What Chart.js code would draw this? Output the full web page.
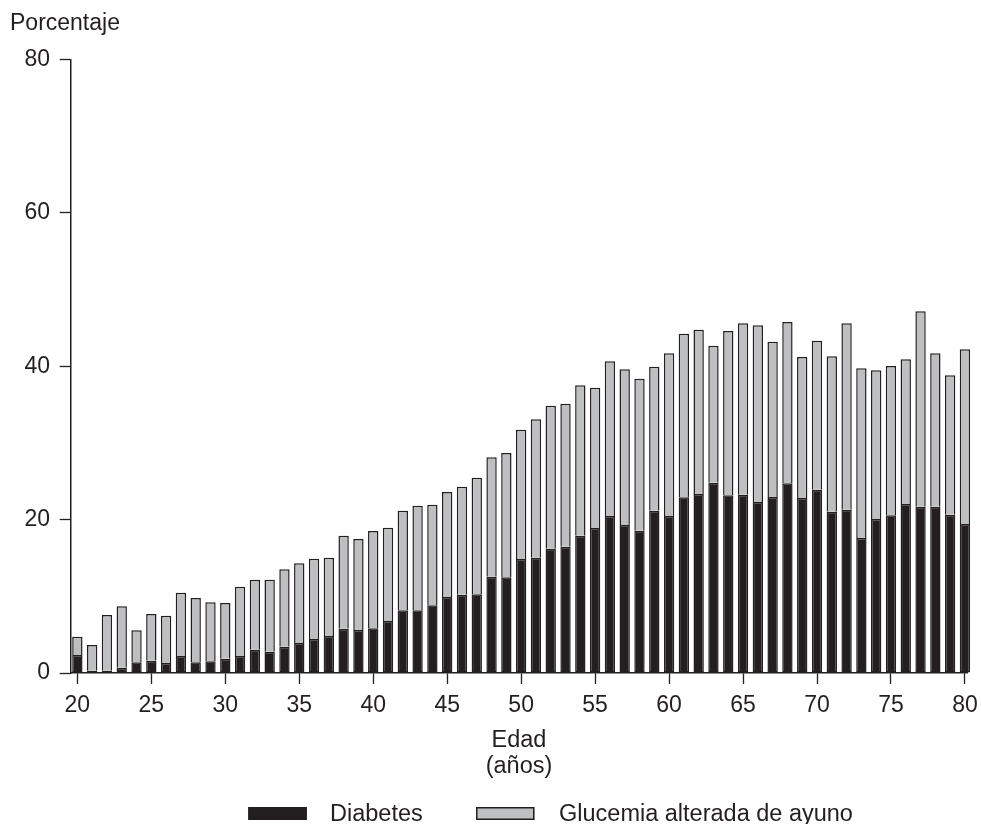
<!DOCTYPE html>
<html>
<head>
<meta charset="utf-8">
<script src="https://cdn.jsdelivr.net/npm/chart.js@4.4.1/dist/chart.umd.min.js"></script>
<style>
html,body{margin:0;padding:0;background:#ffffff;}
#wrap{width:981px;height:824px;position:relative;}
canvas{display:block;}
</style>
</head>
<body>
<div id="wrap"><canvas id="c" width="981" height="824"></canvas></div>
<script>
// ---- data ----
const ages = [20,21,22,23,24,25,26,27,28,29,30,31,32,33,34,35,36,37,38,39,40,
              41,42,43,44,45,46,47,48,49,50,51,52,53,54,55,56,57,58,59,60,
              61,62,63,64,65,66,67,68,69,70,71,72,73,74,75,76,77,78,79,80];
const diabetes = [2.35,0.3,0.3,0.69,1.40,1.60,1.30,2.22,1.40,1.53,1.86,
                  2.22,3.04,2.78,3.43,3.91,4.43,4.82,5.78,5.61,5.83,
                  6.78,8.18,8.18,8.83,9.91,10.21,10.26,12.56,12.48,14.87,
                  15.03,16.21,16.47,17.90,18.91,20.47,19.30,18.56,21.16,20.47,
                  22.91,23.34,24.81,23.17,23.25,22.30,22.95,24.74,22.82,23.90,
                  21.03,21.29,17.60,20.08,20.56,22.04,21.68,21.68,20.64,19.43];
const glucemia = [2.38,3.35,7.26,8.01,4.17,6.09,6.17,8.25,8.38,7.69,7.27,
                  9.03,9.13,9.39,10.09,10.39,10.47,10.21,12.12,11.86,12.69,
                  12.17,12.98,13.64,13.12,13.69,14.08,15.21,15.57,16.21,16.85,
                  18.05,18.64,18.65,19.61,18.29,20.17,20.30,19.81,18.78,21.22,
                  21.33,21.42,17.87,21.42,22.35,23.04,20.25,21.03,18.38,19.43,
                  20.27,24.31,22.13,19.39,19.47,18.86,25.48,20.01,18.18,22.78];
const seriesLabels = ['Diabetes', 'Glucemia alterada de ayuno'];
const xTicks = [20,25,30,35,40,45,50,55,60,65,70,75,80];
const yTicks = [0,20,40,60,80];
const yTitle = 'Porcentaje';
const xTitle = ['Edad', '(años)'];

// ---- styles ----
const FONT = "'Liberation Sans', Arial, Helvetica, sans-serif";
const INK = '#231f20';
const GRAY = '#bdbfc1';

Chart.defaults.font.family = FONT;
Chart.defaults.color = INK;

const bottomLegend = {
  id: 'bottomLegend',
  afterDraw(chart) {
    const ctx = chart.ctx;
    const spots = [{box: 248.3, text: 330}, {box: 476, text: 559}];
    chart.data.datasets.forEach((ds, i) => {
      const s = spots[i];
      ctx.save();
      ctx.fillStyle = ds.backgroundColor;
      ctx.fillRect(s.box, 807, 58.5, 13);
      ctx.strokeStyle = INK;
      ctx.lineWidth = 1.5;
      ctx.strokeRect(s.box + 0.75, 807.75, 57, 11.5);
      ctx.fillStyle = INK;
      ctx.font = '23.5px ' + FONT;
      ctx.textBaseline = 'alphabetic';
      ctx.textAlign = 'left';
      ctx.fillText(ds.label, s.text, 820.5);
      ctx.restore();
    });
  }
};

const mk = (vals) => vals.map((v, i) => ({x: ages[i], y: v}));

new Chart(document.getElementById('c'), {
  type: 'bar',
  data: {
    datasets: [
      {label: seriesLabels[0], data: mk(diabetes), backgroundColor: INK, borderColor: INK,
       borderWidth: 1.5, borderSkipped: false, clip: false},
      {label: seriesLabels[1], data: mk(glucemia), backgroundColor: GRAY, borderColor: INK,
       borderWidth: 1.5, borderSkipped: 'start', clip: false}
    ]
  },
  options: {
    responsive: false,
    devicePixelRatio: 1,
    animation: false,
    layout: {padding: {left: 10, right: 13.7, top: 0, bottom: 41}},
    datasets: {bar: {barPercentage: 0.70, categoryPercentage: 1.0}},
    plugins: {
      legend: {display: false},
      tooltip: {enabled: false},
      title: {
        display: true, text: yTitle, align: 'start', color: INK,
        font: {size: 23, weight: 'normal', family: FONT, lineHeight: 1.2},
        padding: {top: 10, bottom: 21.9}
      }
    },
    scales: {
      x: {
        type: 'linear', stacked: true, min: 19.55, max: 80.16, offset: false,
        afterBuildTicks: (s) => { s.ticks = xTicks.map(v => ({value: v})); },
        afterFit: (s) => { s.height = 110; s.paddingLeft = 0; s.paddingRight = 0; },
        grid: {offset: false, drawOnChartArea: false, drawTicks: true, tickLength: 11, color: INK, tickWidth: 1.3},
        border: {display: true, color: INK, width: 1.5},
        ticks: {font: {size: 23}, color: INK, padding: 8, maxRotation: 0, autoSkip: false},
        title: {display: true, text: xTitle, color: INK,
                font: {size: 23.5, lineHeight: 1.11}, padding: {top: 0, bottom: 3}}
      },
      y: {
        stacked: true, min: 0, max: 80,
        afterBuildTicks: (s) => { s.ticks = yTicks.map(v => ({value: v})); },
        afterFit: (s) => { s.width = 60.7; s.paddingTop = 0; s.paddingBottom = 0; },
        grid: {drawOnChartArea: false, drawTicks: true, tickLength: 11, color: INK, tickWidth: 1.3},
        border: {display: true, color: INK, width: 1.5},
        ticks: {font: {size: 23}, color: INK, padding: 9.7}
      }
    }
  },
  plugins: [bottomLegend]
});
</script>
</body>
</html>
